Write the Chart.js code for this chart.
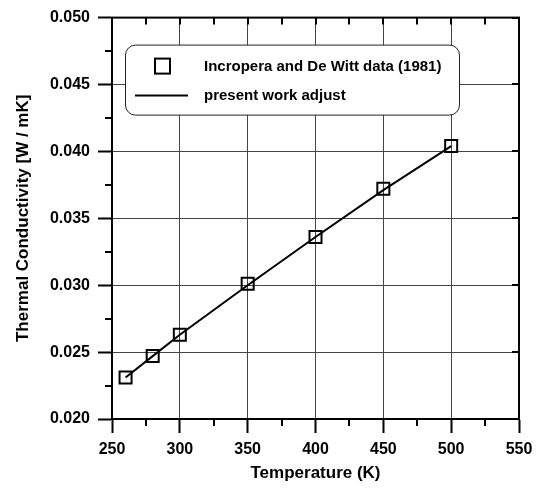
<!DOCTYPE html>
<html>
<head>
<meta charset="utf-8">
<script src="https://cdn.jsdelivr.net/npm/chart.js@4/dist/chart.umd.min.js"></script>
<style>
  html, body { margin: 0; padding: 0; background: #fff; }
  #wrap { width: 540px; height: 492px; }
</style>
</head>
<body>
<div id="wrap"><canvas id="chart" width="540" height="492"></canvas></div>
<script>
// measured data (Incropera and De Witt, 1981)
const dataTemp = [260, 280, 300, 350, 400, 450, 500];
const dataK = [0.0231, 0.0247, 0.0263, 0.0301, 0.0336, 0.0372, 0.0404];

// fitted curve
const fitTemp = [260, 280, 300, 350, 400, 450, 500];
const fitK = [0.0231, 0.0247, 0.0263, 0.0300, 0.0336, 0.0371, 0.0404];

const seriesLabels = ["Incropera and De Witt data (1981)", "present work adjust"];
const xTitle = "Temperature (K)";
const yTitle = "Thermal Conductivity [W / mK]";

const FONT = "'Liberation Sans', Arial, Helvetica, sans-serif";

const toPts = (xs, ys) => xs.map((x, i) => ({ x: x, y: ys[i] }));

// frame, minor ticks and inward ticks on top / right
const framePlugin = {
  id: 'frame',
  afterDatasetsDraw(chart) {
    const { ctx, chartArea: a, scales: { x, y } } = chart;
    ctx.save();
    ctx.strokeStyle = '#000';
    ctx.lineWidth = 2;
    ctx.beginPath();
    const xs = x.options.ticks.stepSize, ys = y.options.ticks.stepSize;
    for (let v = x.min; v <= x.max + 1e-9; v += xs / 2) {
      const px = Math.round(x.getPixelForValue(v));
      const major = Math.abs((v - x.min) / xs - Math.round((v - x.min) / xs)) < 1e-6;
      if (!major) { ctx.moveTo(px, a.bottom); ctx.lineTo(px, a.bottom + 7); }
      ctx.moveTo(px, a.top); ctx.lineTo(px, a.top + 7);
    }
    for (let v = y.min; v <= y.max + 1e-9; v += ys / 2) {
      const py = Math.round(y.getPixelForValue(v));
      const major = Math.abs((v - y.min) / ys - Math.round((v - y.min) / ys)) < 1e-6;
      if (!major) { ctx.moveTo(a.left, py); ctx.lineTo(a.left - 7, py); }
      else { ctx.moveTo(a.right, py); ctx.lineTo(a.right - 7, py); }
    }
    ctx.stroke();
    ctx.strokeRect(a.left, a.top, a.right - a.left, a.bottom - a.top);
    ctx.restore();
  }
};

// rounded legend box inside the plot
const legendBox = {
  id: 'legendBox',
  afterDatasetsDraw(chart) {
    const { ctx, chartArea: a } = chart;
    const l = a.left + 13, t = a.top + 27, w = 334, h = 70, r = 10;
    ctx.save();
    ctx.beginPath();
    ctx.roundRect(l + 0.5, t + 0.5, w, h, r);
    ctx.fillStyle = '#fff';
    ctx.fill();
    ctx.lineWidth = 1;
    ctx.strokeStyle = '#222';
    ctx.stroke();

    ctx.lineWidth = 2;
    ctx.strokeStyle = '#000';
    ctx.strokeRect(l + 30, t + 14, 15, 15);
    ctx.beginPath();
    ctx.moveTo(l + 10, t + 51);
    ctx.lineTo(l + 63, t + 51);
    ctx.stroke();

    ctx.fillStyle = '#000';
    ctx.font = 'bold 15px ' + FONT;
    ctx.textBaseline = 'middle';
    ctx.fillText(chart.data.datasets[0].label, l + 79, t + 22);
    ctx.fillText(chart.data.datasets[1].label, l + 79, t + 51);
    ctx.restore();
  }
};

new Chart(document.getElementById('chart'), {
  type: 'scatter',
  data: {
    datasets: [
      {
        label: seriesLabels[0],
        data: toPts(dataTemp, dataK),
        pointStyle: 'rect',
        pointRadius: 8.5,
        pointHoverRadius: 8.5,
        borderColor: '#000',
        backgroundColor: 'rgba(0,0,0,0)',
        borderWidth: 2,
        showLine: false,
        order: 0
      },
      {
        label: seriesLabels[1],
        data: toPts(fitTemp, fitK),
        showLine: true,
        borderColor: '#000',
        borderWidth: 2,
        pointRadius: 0,
        tension: 0,
        order: 1
      }
    ]
  },
  options: {
    responsive: false,
    animation: false,
    layout: { padding: { top: 10, right: 21, left: 0, bottom: 0 } },
    plugins: { legend: { display: false }, tooltip: { enabled: false } },
    scales: {
      x: {
        type: 'linear',
        min: 250, max: 550,
        afterFit: s => { s.height = 73; },
        ticks: {
          stepSize: 50,
          padding: 7,
          color: '#000',
          font: { family: FONT, size: 16, weight: 'bold' }
        },
        grid: { color: '#444', lineWidth: 1, tickLength: 14, tickWidth: 2, tickColor: '#000' },
        border: { color: '#000', width: 2 },
        title: {
          display: true,
          text: xTitle,
          color: '#000',
          padding: { top: 0, bottom: 8 },
          font: { family: FONT, size: 17, weight: 'bold' }
        }
      },
      y: {
        type: 'linear',
        min: 0.020, max: 0.050,
        afterFit: s => { s.width = 112; },
        ticks: {
          stepSize: 0.005,
          padding: 8,
          color: '#000',
          font: { family: FONT, size: 16, weight: 'bold' },
          callback: v => v.toFixed(3)
        },
        grid: { color: '#444', lineWidth: 1, tickLength: 14, tickWidth: 2, tickColor: '#000' },
        border: { color: '#000', width: 2 },
        title: {
          display: true,
          text: yTitle,
          color: '#000',
          padding: { top: 13, bottom: 0 },
          font: { family: FONT, size: 17, weight: 'bold' }
        }
      }
    }
  },
  plugins: [framePlugin, legendBox]
});
</script>
</body>
</html>
